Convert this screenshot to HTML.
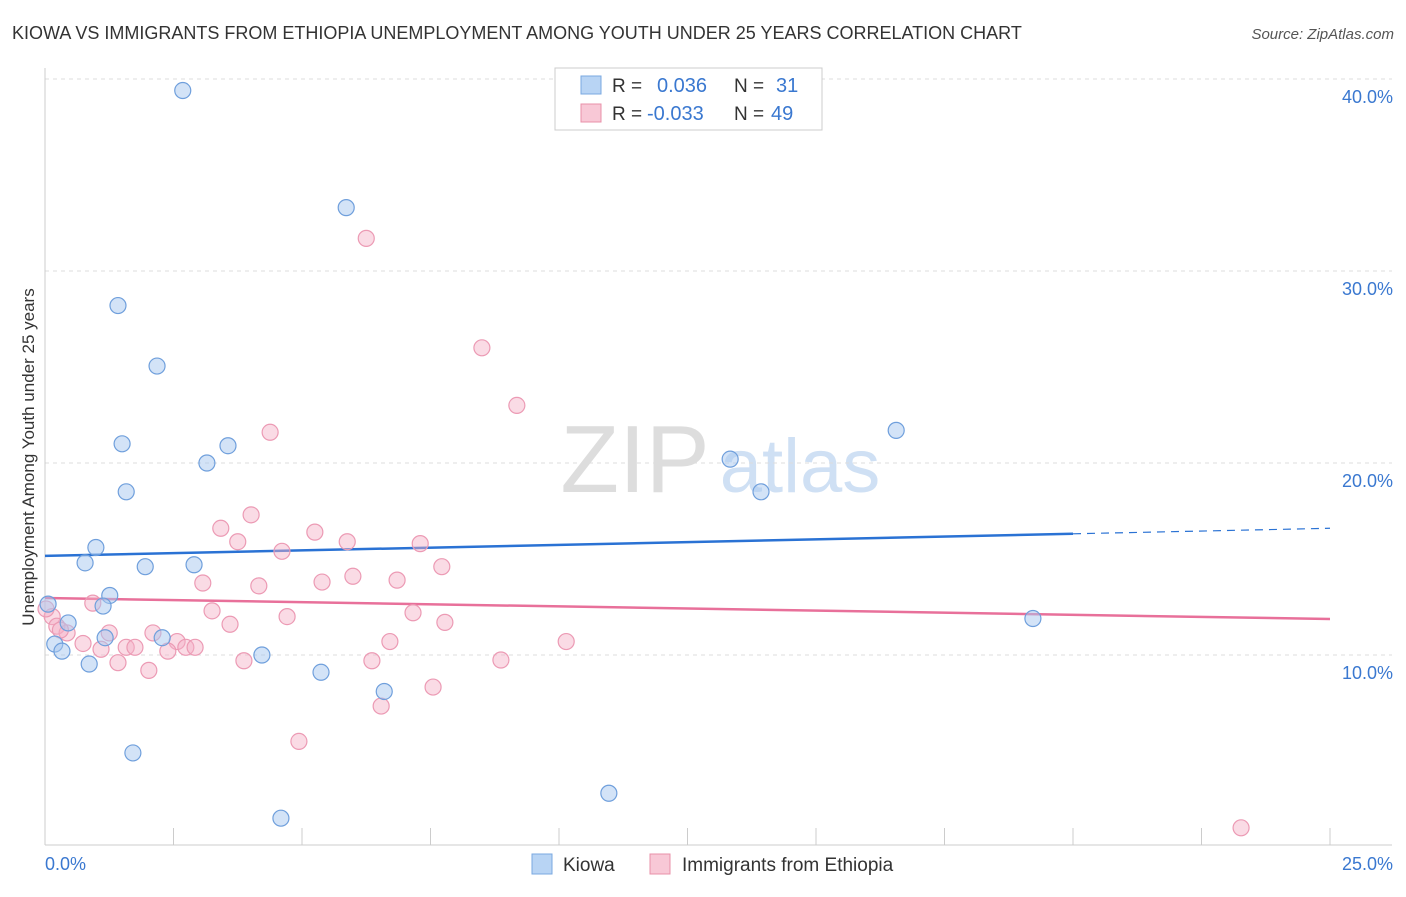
<!DOCTYPE html>
<html><head><meta charset="utf-8"><style>
body{margin:0;background:#fff;font-family:"Liberation Sans",sans-serif}
svg text{font-family:"Liberation Sans",sans-serif}
</style></head><body>
<svg id="chart" width="1406" height="892" xmlns="http://www.w3.org/2000/svg">
<text x="12" y="39" font-size="18" fill="#333">KIOWA VS IMMIGRANTS FROM ETHIOPIA UNEMPLOYMENT AMONG YOUTH UNDER 25 YEARS CORRELATION CHART</text>
<text x="1394" y="39" font-size="15" fill="#555" text-anchor="end" font-style="italic">Source: ZipAtlas.com</text>
<text transform="translate(34,457) rotate(-90)" font-size="17" fill="#333" text-anchor="middle">Unemployment Among Youth under 25 years</text>
<g>
<text x="635" y="492" font-size="96" fill="#ddd" text-anchor="middle" font-family="Liberation Serif">ZIP</text>
<text x="800" y="492" font-size="76" fill="#cfe0f4" text-anchor="middle">atlas</text>
</g>
<g id="grid"></g><g id="axes"></g><g id="lines"></g><g id="points"></g>
<g>
<rect x="555" y="68" width="267" height="62" fill="#fff" stroke="#ccc"/>
<rect x="581" y="76" width="20" height="18" fill="#b8d4f4" stroke="#7aa8e0"/>
<text x="612" y="92" font-size="19" fill="#333">R =</text><text x="657" y="92" font-size="20" fill="#3a78d0">0.036</text>
<text x="734" y="92" font-size="19" fill="#333">N =</text><text x="776" y="92" font-size="20" fill="#3a78d0">31</text>
<rect x="581" y="104" width="20" height="18" fill="#f8c8d6" stroke="#e890a8"/>
<text x="612" y="120" font-size="19" fill="#333">R =</text><text x="647" y="120" font-size="20" fill="#3a78d0">-0.033</text>
<text x="734" y="120" font-size="19" fill="#333">N =</text><text x="771" y="120" font-size="20" fill="#3a78d0">49</text>
</g>
<g>
<rect x="532" y="854" width="20" height="20" fill="#b8d4f4" stroke="#7aa8e0"/>
<text x="563" y="871" font-size="19" fill="#333">Kiowa</text>
<rect x="650" y="854" width="20" height="20" fill="#f8c8d6" stroke="#e890a8"/>
<text x="682" y="871" font-size="19" fill="#333">Immigrants from Ethiopia</text>
</g>
</svg>
<script>
const yTicks=[10,20,30,40];
const yTickLabels=["10.0%","20.0%","30.0%","40.0%"];
const xTickLabels=["0.0%","25.0%"];
const kiowaX=[2.68,5.86,1.42,2.18,1.50,3.56,3.15,1.58,16.56,13.33,13.93,0.99,0.78,1.95,2.90,1.26,1.13,0.06,0.45,0.19,0.33,1.17,2.28,0.86,4.22,5.37,6.60,1.71,4.59,10.97,19.22];
const kiowaY=[39.4,33.3,28.2,25.05,21.0,20.9,20.0,18.5,21.7,20.2,18.5,15.6,14.8,14.6,14.7,13.1,12.55,12.65,11.67,10.57,10.2,10.9,10.9,9.53,10.0,9.1,8.1,4.9,1.5,2.8,11.9];
const ethX=[6.25,8.50,9.18,4.38,4.01,3.42,3.75,5.25,5.88,7.30,4.61,7.72,5.99,5.39,6.85,3.07,4.16,0.93,3.25,4.71,7.16,3.60,7.78,0.14,0.23,0.43,0.74,1.25,2.10,2.57,2.74,2.92,2.39,1.58,1.75,1.09,6.71,10.14,1.42,2.02,3.87,6.36,8.87,7.55,6.54,4.94,23.27,0.02,0.3];
const ethY=[31.7,26.0,23.0,21.6,17.3,16.6,15.9,16.4,15.9,15.8,15.4,14.6,14.1,13.8,13.9,13.75,13.6,12.7,12.3,12.0,12.2,11.6,11.7,12.0,11.5,11.15,10.6,11.15,11.15,10.7,10.4,10.4,10.2,10.4,10.4,10.3,10.7,10.7,9.6,9.2,9.7,9.7,9.74,8.33,7.34,5.5,1.0,12.4,11.3];
const kiowaTrend=[15.16,16.6];
const ethTrend=[12.97,11.875];
const X=v=>45+v*51.4, Y=v=>847-v*19.2;
const NS="http://www.w3.org/2000/svg";
function mk(parent,tag,attrs){const e=document.createElementNS(NS,tag);for(const k in attrs)e.setAttribute(k,attrs[k]);document.getElementById(parent).appendChild(e);return e;}
yTicks.forEach((t,i)=>{
 const g=mk("grid","line",{x1:45,x2:1392,y1:Y(t),y2:Y(t),stroke:"#ddd","stroke-dasharray":"4,4"});
 
 
 const l=mk("axes","text",{x:1393,y:Y(t)+24,"font-size":18,fill:"#3a78d0","text-anchor":"end"});l.textContent=yTickLabels[i];
 
 
});
const ax=mk("axes","line",{x1:45,x2:1392,y1:845,y2:845,stroke:"#ccc"});


const ay=mk("axes","line",{x1:45,x2:45,y1:68,y2:845,stroke:"#ccc"});


for(let i=0;i<=10;i++){const t=mk("axes","line",{x1:X(i*2.5),x2:X(i*2.5),y1:828,y2:845,stroke:"#ccc"});
 
 }
[[0,"start",45],[1,"end",1393]].forEach(([i,a,x])=>{const l=mk("axes","text",{x:x,y:870,"font-size":18,fill:"#3a78d0","text-anchor":a});l.textContent=xTickLabels[i];
 
 });
const kt=v=>kiowaTrend[0]+(kiowaTrend[1]-kiowaTrend[0])*v/25;
const et=v=>ethTrend[0]+(ethTrend[1]-ethTrend[0])*v/25;
const l1=mk("lines","line",{x1:X(0),y1:Y(kt(0)),x2:X(20),y2:Y(kt(20)),stroke:"#2a72d4","stroke-width":2.5});


const l2=mk("lines","line",{x1:X(20),y1:Y(kt(20)),x2:X(25),y2:Y(kt(25)),stroke:"#2a72d4","stroke-width":1.2,"stroke-dasharray":"8,6"});


const l3=mk("lines","line",{x1:X(0),y1:Y(et(0)),x2:X(25),y2:Y(et(25)),stroke:"#e8709a","stroke-width":2.5});


ethX.forEach((x,i)=>{const c=mk("points","circle",{cx:X(x),cy:Y(ethY[i]),r:8,fill:"rgba(244,176,198,0.45)",stroke:"#ec9ab4","stroke-width":1.2});
 
 });
kiowaX.forEach((x,i)=>{const c=mk("points","circle",{cx:X(x),cy:Y(kiowaY[i]),r:8,fill:"rgba(168,200,240,0.5)",stroke:"#6f9fdc","stroke-width":1.2});
 
 });
</script>
</body></html>
